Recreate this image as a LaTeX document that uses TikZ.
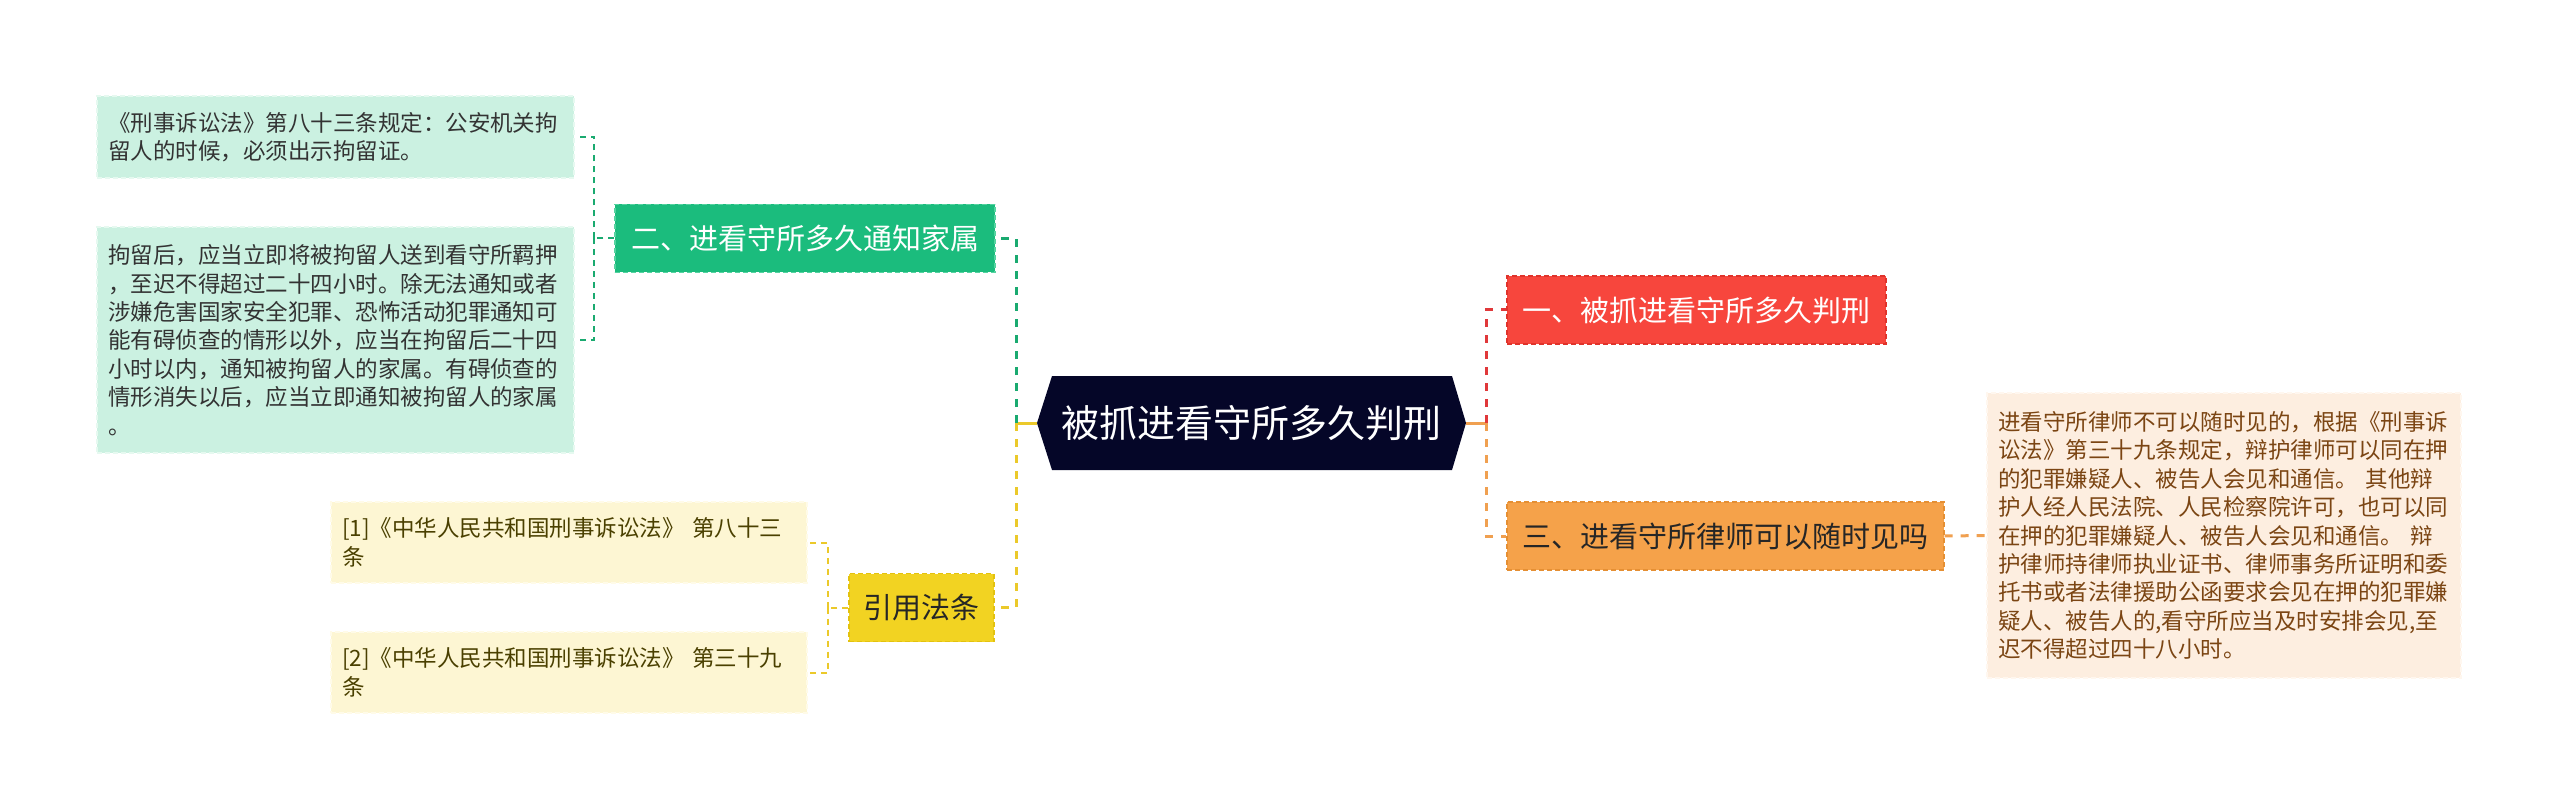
\documentclass[tikz,border=0pt]{standalone}
\usepackage{fontspec}
\setmainfont{Noto Sans CJK SC}
\usetikzlibrary{calc}
\definecolor{cdark}{HTML}{050628}
\definecolor{gnode}{HTML}{1BBC7D}
\definecolor{gnodeb}{HTML}{55D3A0}
\definecolor{gbox}{HTML}{CBF1E1}
\definecolor{gboxb}{HTML}{E6F9F0}
\definecolor{gline}{HTML}{1AAA70}
\definecolor{rnode}{HTML}{F7463D}
\definecolor{rnodeb}{HTML}{E0332B}
\definecolor{rline}{HTML}{E0383A}
\definecolor{onode}{HTML}{F5A24A}
\definecolor{onodeb}{HTML}{E58F33}
\definecolor{oline}{HTML}{F0A050}
\definecolor{obox}{HTML}{FDEEE0}
\definecolor{oboxb}{HTML}{FFF7EF}
\definecolor{otext}{HTML}{7B4513}
\definecolor{ynode}{HTML}{F2D322}
\definecolor{ynodeb}{HTML}{E3C20F}
\definecolor{yline}{HTML}{EBC92A}
\definecolor{ybox}{HTML}{FDF6D3}
\definecolor{yboxb}{HTML}{FFFBE8}
\definecolor{ytext}{HTML}{4A4000}
\tikzset{
  topic/.style={inner sep=0pt, minimum height=68pt, font=\fontsize{29}{34}\selectfont, line width=1.3pt, dash pattern=on 5pt off 3pt},
  textbox/.style={inner xsep=11pt, inner ysep=0pt, align=left, font=\fontsize{22.5}{28.4}\selectfont, line width=1.3pt, dash pattern=on 5pt off 3pt},
  conn/.style={line width=3pt, dash pattern=on 8pt off 8pt},
  connsolid/.style={line width=3pt},
}
\begin{document}
\begin{tikzpicture}[x=1pt,y=-1pt]
\useasboundingbox (0,0) rectangle (2560,810);
% central node
\fill[cdark] (1052,376) -- (1452,376) -- (1466,423) -- (1452,470) -- (1052,470) -- (1037,423) -- cycle;
\node[inner sep=0pt, minimum width=429pt, minimum height=94pt, text=white, font=\fontsize{38}{44}\selectfont] (c) at (1251.5,423) {被抓进看守所多久判刑};
% level 1
\node[topic, fill=gnode, draw=gnodeb, text=white, minimum width=380pt] (n2) at (805,238.5) {二、进看守所多久通知家属};
\node[topic, fill=ynode, draw=ynodeb, text=black!85, minimum width=145pt] (ny) at (921.5,607.5) {引用法条};
\node[topic, fill=rnode, draw=rnodeb, text=white, minimum width=379pt] (n1) at (1696.5,310) {一、被抓进看守所多久判刑};
\node[topic, fill=onode, draw=onodeb, text=black!85, minimum width=437pt] (n3) at (1725.5,536) {三、进看守所律师可以随时见吗};
% leaves
\node[textbox, fill=gbox, draw=gboxb, text=black!80, text width=455pt, minimum height=82pt] (a) at (335.5,137) {《刑事诉讼法》第八十三条规定：公安机关拘\\留人的时候，必须出示拘留证。};
\node[textbox, fill=gbox, draw=gboxb, text=black!80, text width=455pt, minimum height=226pt] (b) at (335.5,340) {拘留后，应当立即将被拘留人送到看守所羁押\\，至迟不得超过二十四小时。除无法通知或者\\涉嫌危害国家安全犯罪、恐怖活动犯罪通知可\\能有碍侦查的情形以外，应当在拘留后二十四\\小时以内，通知被拘留人的家属。有碍侦查的\\情形消失以后，应当立即通知被拘留人的家属\\。};
\node[textbox, fill=ybox, draw=yboxb, text=ytext, text width=454pt, minimum height=81pt] (y1) at (569,542.5) {[1]《中华人民共和国刑事诉讼法》 第八十三\\条};
\node[textbox, fill=ybox, draw=yboxb, text=ytext, text width=454pt, minimum height=81pt] (y2) at (569,672.5) {[2]《中华人民共和国刑事诉讼法》 第三十九\\条};
\node[textbox, fill=obox, draw=oboxb, text=otext, text width=452pt, minimum height=285pt] (r) at (2224,535.5) {进看守所律师不可以随时见的，根据《刑事诉\\讼法》第三十九条规定，辩护律师可以同在押\\的犯罪嫌疑人、被告人会见和通信。 其他辩\\护人经人民法院、人民检察院许可，也可以同\\在押的犯罪嫌疑人、被告人会见和通信。 辩\\护律师持律师执业证书、律师事务所证明和委\\托书或者法律援助公函要求会见在押的犯罪嫌\\疑人、被告人的,看守所应当及时安排会见,至\\迟不得超过四十八小时。};
% trunk coordinates
\coordinate (tL) at (1016,423);
\coordinate (tR) at (1486,423);
\coordinate (gL) at (594,238.5);
\coordinate (yL) at (828,607.5);
% connectors
\draw[connsolid, yline] (c.west) -- (tL);
\draw[conn, gline] (tL) |- (n2.east);
\draw[conn, yline] (tL) |- (ny.east);
\draw[connsolid, oline] (c.east) -- (tR);
\draw[conn, rline] (tR) |- (n1.west);
\draw[conn, oline] (tR) |- (n3.west);
\draw[conn, oline] (n3.east) -- (r.west);
\draw[conn, gline, line width=2pt, dash pattern=on 6pt off 5pt] (n2.west) -- (gL);
\draw[conn, gline, line width=2pt, dash pattern=on 6pt off 5pt] (gL) |- (a.east);
\draw[conn, gline, line width=2pt, dash pattern=on 6pt off 5pt] (gL) |- (b.east);
\draw[conn, yline, line width=2pt, dash pattern=on 6pt off 5pt] (ny.west) -- (yL);
\draw[conn, yline, line width=2pt, dash pattern=on 6pt off 5pt] (yL) |- (y1.east);
\draw[conn, yline, line width=2pt, dash pattern=on 6pt off 5pt] (yL) |- (y2.east);
\end{tikzpicture}
\end{document}
